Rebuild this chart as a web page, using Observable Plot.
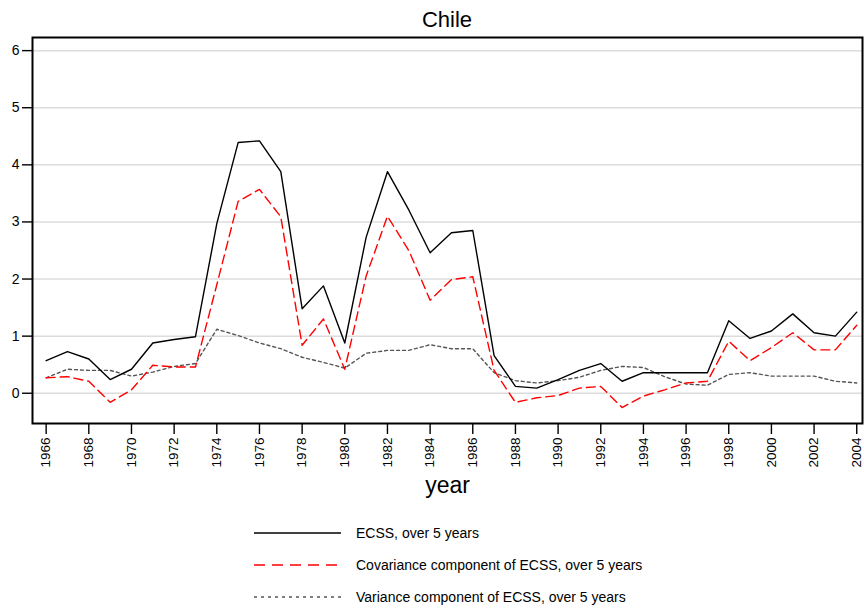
<!DOCTYPE html>
<html>
<head>
<meta charset="utf-8">
<script src="https://cdn.jsdelivr.net/npm/d3@7"></script>
<script src="https://cdn.jsdelivr.net/npm/@observablehq/plot@0.6"></script>
<style>
  body { margin: 0; background: #fff; font-family: "Liberation Sans", Arial, sans-serif; }
  #wrap { width: 864px; height: 608px; position: relative; overflow: hidden; }
  #title { height: 25px; line-height: 30px; padding-top: 5px; padding-left: 30px; text-align: center; font-size: 22px; color: #000; }
  #legend { margin-left: 254px; margin-top: 12px; }
  .row { height: 32px; display: flex; align-items: center; font-size: 14px; color: #000; }
  .row svg { margin-right: 15px; }
</style>
</head>
<body>
<div id="wrap">
  <div id="title">Chile</div>
  <div id="chart"></div>
  <div id="legend"></div>
</div>
<script>
const years = [1966,1967,1968,1969,1970,1971,1972,1973,1974,1975,1976,1977,1978,1979,1980,1981,1982,1983,1984,1985,1986,1987,1988,1989,1990,1991,1992,1993,1994,1995,1996,1997,1998,1999,2000,2001,2002,2003,2004];
const ecss = [0.57,0.73,0.60,0.24,0.42,0.88,0.94,0.99,2.97,4.39,4.42,3.88,1.48,1.88,0.88,2.73,3.88,3.21,2.46,2.81,2.85,0.66,0.12,0.09,0.24,0.40,0.52,0.21,0.36,0.36,0.36,0.36,1.27,0.96,1.09,1.39,1.06,1.00,1.42];
const covariance = [0.27,0.29,0.21,-0.16,0.06,0.49,0.46,0.46,1.90,3.36,3.57,3.09,0.84,1.30,0.42,2.05,3.10,2.50,1.63,1.99,2.04,0.40,-0.16,-0.08,-0.04,0.09,0.12,-0.25,-0.05,0.06,0.18,0.21,0.91,0.57,0.80,1.06,0.76,0.76,1.19];
const variance = [0.27,0.42,0.40,0.40,0.30,0.37,0.47,0.52,1.12,1.01,0.88,0.78,0.63,0.54,0.44,0.70,0.75,0.75,0.85,0.78,0.78,0.36,0.22,0.18,0.22,0.28,0.40,0.47,0.45,0.29,0.16,0.14,0.33,0.36,0.30,0.30,0.30,0.21,0.18];
const seriesNames = ["ECSS, over 5 years", "Covariance component of ECSS, over 5 years", "Variance component of ECSS, over 5 years"];
const yTicks = [0,1,2,3,4,5,6];
const xTicks = [1966,1968,1970,1972,1974,1976,1978,1980,1982,1984,1986,1988,1990,1992,1994,1996,1998,2000,2002,2004];

const rows = (vals) => years.map((y, i) => ({year: y, value: vals[i]}));

const chart = Plot.plot({
  width: 864,
  height: 475,
  marginTop: 7,
  marginLeft: 32,
  marginRight: 2,
  marginBottom: 82,
  style: {fontFamily: "Liberation Sans, Arial, sans-serif", background: "#fff", color: "#000"},
  x: {domain: [1965.36, 2004.27]},
  y: {domain: [-0.53, 6.23]},
  marks: [
    Plot.ruleY(yTicks, {stroke: "#dcdcdc", strokeWidth: 1.5}),
    Plot.line(rows(variance), {x: "year", y: "value", stroke: "#555", strokeWidth: 1.4, strokeDasharray: "3,3"}),
    Plot.line(rows(covariance), {x: "year", y: "value", stroke: "#ff0000", strokeWidth: 1.4, strokeDasharray: "9,5"}),
    Plot.line(rows(ecss), {x: "year", y: "value", stroke: "#000", strokeWidth: 1.4}),
    Plot.frame({stroke: "#000", strokeWidth: 2}),
    Plot.axisY(yTicks, {anchor: "left", tickSize: 10, tickPadding: 3, fontSize: 14, label: null, strokeWidth: 1.4, tickFormat: d => String(d)}),
    Plot.axisX(xTicks, {anchor: "bottom", tickSize: 11, tickPadding: 3, fontSize: 13.5, tickRotate: -90, label: null, strokeWidth: 1.4, tickFormat: d => String(d)}),
    Plot.text(["year"], {frameAnchor: "bottom", dy: 69, fontSize: 23, fill: "#000"})
  ]
});
document.getElementById("chart").appendChild(chart);

const styles = [
  {stroke: "#000", dash: null},
  {stroke: "#ff0000", dash: "11,7"},
  {stroke: "#555", dash: "3,4"}
];
const legend = document.getElementById("legend");
seriesNames.forEach((name, i) => {
  const row = document.createElement("div");
  row.className = "row";
  const ns = "http://www.w3.org/2000/svg";
  const s = document.createElementNS(ns, "svg");
  s.setAttribute("width", "87"); s.setAttribute("height", "4");
  const l = document.createElementNS(ns, "line");
  l.setAttribute("x1", "0"); l.setAttribute("x2", "87"); l.setAttribute("y1", "2"); l.setAttribute("y2", "2");
  l.setAttribute("stroke", styles[i].stroke); l.setAttribute("stroke-width", "1.5");
  if (styles[i].dash) l.setAttribute("stroke-dasharray", styles[i].dash);
  s.appendChild(l);
  row.appendChild(s);
  const t = document.createElement("span");
  t.textContent = name;
  row.appendChild(t);
  legend.appendChild(row);
});
</script>
</body>
</html>
